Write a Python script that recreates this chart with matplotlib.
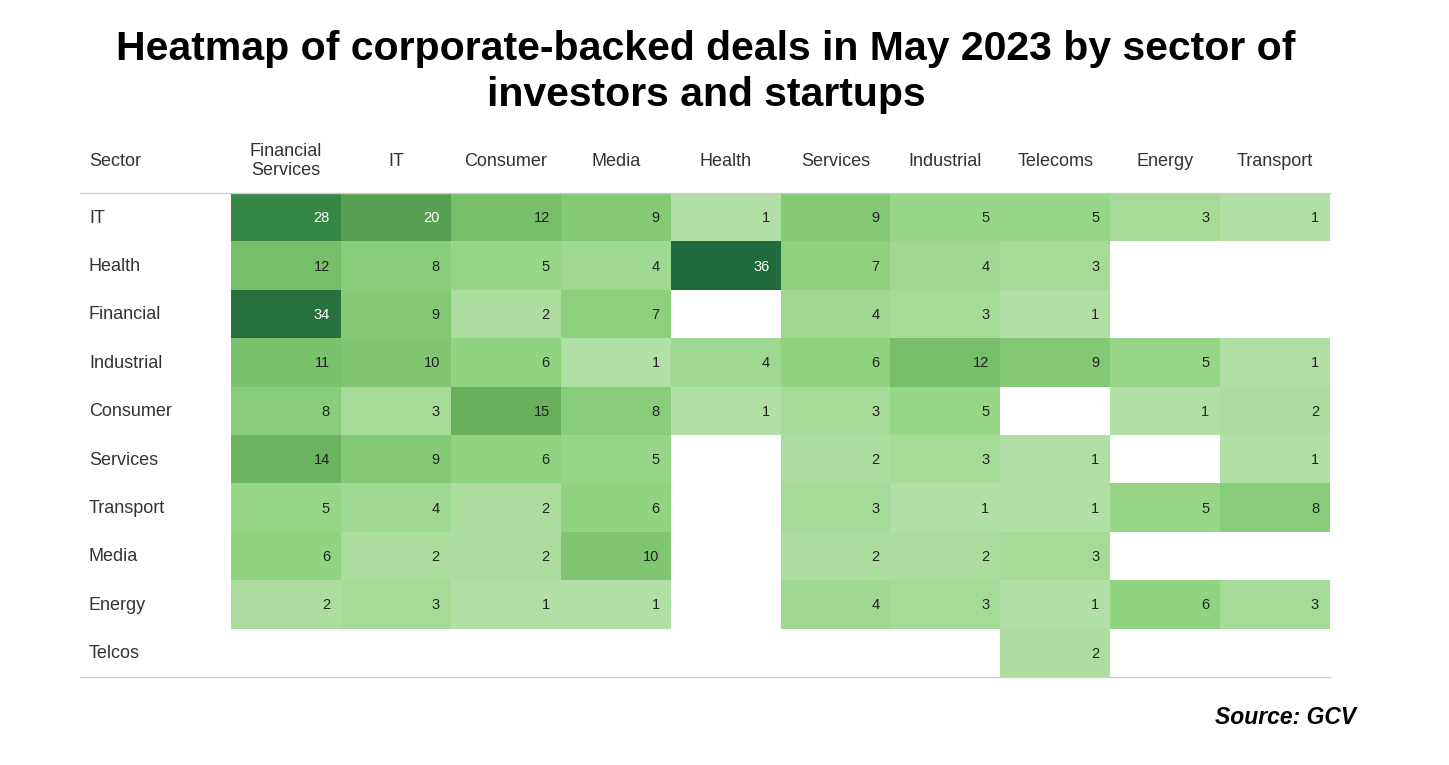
import numpy as np
import matplotlib
matplotlib.use("Agg")
from matplotlib import pyplot as plt
from matplotlib.colors import LinearSegmentedColormap, Normalize

plt.rcParams['font.family'] = ['Liberation Sans', 'DejaVu Sans']

investors = ['IT', 'Health', 'Financial', 'Industrial', 'Consumer', 'Services',
             'Transport', 'Media', 'Energy', 'Telcos']
startups = ['Financial\nServices', 'IT', 'Consumer', 'Media', 'Health', 'Services',
            'Industrial', 'Telecoms', 'Energy', 'Transport']
nan = np.nan
deals = np.array([
    [28, 20, 12, 9, 1, 9, 5, 5, 3, 1],
    [12, 8, 5, 4, 36, 7, 4, 3, nan, nan],
    [34, 9, 2, 7, nan, 4, 3, 1, nan, nan],
    [11, 10, 6, 1, 4, 6, 12, 9, 5, 1],
    [8, 3, 15, 8, 1, 3, 5, nan, 1, 2],
    [14, 9, 6, 5, nan, 2, 3, 1, nan, 1],
    [5, 4, 2, 6, nan, 3, 1, 1, 5, 8],
    [6, 2, 2, 10, nan, 2, 2, 3, nan, nan],
    [2, 3, 1, 1, nan, 4, 3, 1, 6, 3],
    [nan, nan, nan, nan, nan, nan, nan, 2, nan, nan],
])

# colour ramp picked off the reference cells
cmap = LinearSegmentedColormap.from_list('deals', [
    (0.0, '#b2dfa5'), (2 / 35, '#a5da96'), (5 / 35, '#91d480'),
    (8 / 35, '#84ca75'), (11 / 35, '#76be67'), (14 / 35, '#69b05d'),
    (19 / 35, '#579f51'), (27 / 35, '#368645'), (1.0, '#216a3c')])
cmap.set_bad('white')
norm = Normalize(vmin=1, vmax=36)

W, H = 1449, 765
fig = plt.figure(figsize=(W / 100, H / 100), dpi=100)
x0, x1, y0, y1 = 231, 1330, 193, 677
ax = fig.add_axes([x0 / W, 1 - y1 / H, (x1 - x0) / W, (y1 - y0) / H])
ax.pcolormesh(np.arange(11), np.arange(11), np.ma.masked_invalid(deals),
              cmap=cmap, norm=norm)
ax.set_xlim(0, 10)
ax.set_ylim(10, 0)
ax.axis('off')

cw = (x1 - x0) / 10
rh = (y1 - y0) / 10
lab_x = (89 - x0) / cw
line_x = (80 - x0) / cw
head_y = (161 - y0) / rh

for i, name in enumerate(investors):
    ax.text(lab_x, i + 0.52, name, ha='left', va='center', fontsize=13,
            color='#333333', clip_on=False)
    for j in range(10):
        v = deals[i, j]
        if np.isnan(v):
            continue
        ax.text(j + 1 - 0.1, i + 0.52, f'{int(v)}', ha='right', va='center',
                fontsize=10.5, color='white' if v >= 20 else '#222222')

ax.text(lab_x, head_y, 'Sector', ha='left', va='center', fontsize=13,
        color='#333333', clip_on=False)
for j, name in enumerate(startups):
    ax.text(j + 0.5, head_y, name, ha='center', va='center', fontsize=13,
            color='#333333', linespacing=1.2, clip_on=False)

ax.plot([line_x, 10], [0, 0], color='#cccccc', lw=1, clip_on=False)
ax.plot([line_x, 10], [10, 10], color='#cccccc', lw=1, clip_on=False)

fig.text(706 / W, 1 - 72 / H,
         'Heatmap of corporate-backed deals in May 2023 by sector of\ninvestors and startups',
         ha='center', va='center', fontsize=29.5, fontweight='bold', linespacing=1.3)
fig.text(1356 / W, 1 - 717 / H, 'Source: GCV', ha='right', va='center',
         fontsize=16.5, fontweight='bold', fontstyle='italic')

fig.savefig('out.png', dpi=100, facecolor='white')
